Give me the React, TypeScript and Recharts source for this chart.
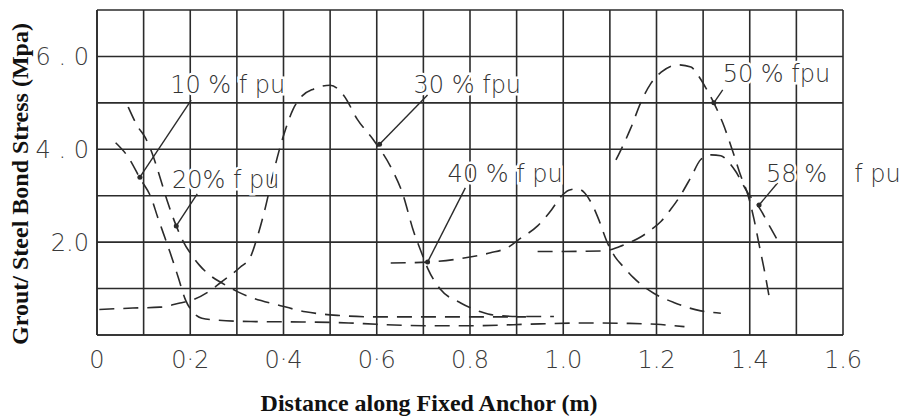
import { LineChart, Line, XAxis, YAxis, CartesianGrid, ReferenceLine, ReferenceDot, Label } from "recharts"

type Pt = [number, number]

// [distance along fixed anchor (m), grout/steel bond stress (MPa)]
const FPU_10: Pt[] = [
  [0.04, 4.14], [0.067, 3.83], [0.092, 3.38], [0.118, 2.91], [0.13, 2.54],
  [0.142, 2.2], [0.157, 1.77], [0.174, 1.25], [0.19, 0.75], [0.205, 0.5],
  [0.225, 0.36], [0.26, 0.32], [0.33, 0.29], [0.44, 0.28], [0.54, 0.26],
  [0.6, 0.23], [0.7, 0.2], [0.8, 0.2], [0.95, 0.24], [1.05, 0.26],
  [1.14, 0.25], [1.2, 0.23], [1.26, 0.18],
]

const FPU_20: Pt[] = [
  [0.067, 4.91], [0.088, 4.48], [0.103, 4.26], [0.118, 3.92], [0.135, 3.4],
  [0.15, 2.91], [0.17, 2.35], [0.183, 2.05], [0.206, 1.68], [0.22, 1.5],
  [0.247, 1.25], [0.268, 1.12], [0.3, 0.94], [0.333, 0.8], [0.387, 0.65],
  [0.447, 0.5], [0.52, 0.42], [0.6, 0.39], [0.76, 0.39], [0.92, 0.39],
]

const FPU_30: Pt[] = [
  [0.005, 0.55], [0.077, 0.58], [0.135, 0.6], [0.178, 0.69], [0.206, 0.76],
  [0.249, 1.0], [0.264, 1.12], [0.307, 1.46], [0.329, 1.68], [0.345, 2.15],
  [0.36, 2.7], [0.375, 3.35], [0.39, 3.95], [0.405, 4.45], [0.42, 4.85],
  [0.44, 5.15], [0.465, 5.3], [0.5, 5.38], [0.53, 5.15], [0.558, 4.65],
  [0.593, 4.2], [0.63, 3.62], [0.655, 3.06], [0.68, 2.2], [0.695, 1.8],
  [0.71, 1.42], [0.737, 0.98], [0.78, 0.69], [0.823, 0.5], [0.85, 0.43],
  [0.9, 0.4], [0.98, 0.4],
]

const FPU_40: Pt[] = [
  [0.63, 1.55], [0.709, 1.57], [0.8, 1.68], [0.844, 1.77], [0.88, 1.88],
  [0.908, 2.08], [0.945, 2.35], [0.975, 2.7], [0.995, 2.98], [1.012, 3.12],
  [1.03, 3.15], [1.046, 3.06], [1.06, 2.85], [1.074, 2.54], [1.095, 1.98],
  [1.11, 1.7], [1.13, 1.46], [1.15, 1.24], [1.173, 1.04], [1.194, 0.9],
  [1.237, 0.7], [1.295, 0.52], [1.338, 0.47],
]

const FPU_50: Pt[] = [
  [1.113, 3.77], [1.13, 4.12], [1.145, 4.46], [1.166, 5.0], [1.188, 5.42],
  [1.21, 5.66], [1.246, 5.82], [1.274, 5.77], [1.29, 5.58], [1.307, 5.3],
  [1.323, 5.0], [1.342, 4.57], [1.366, 3.88], [1.38, 3.45], [1.396, 3.02],
  [1.409, 2.5], [1.42, 1.95], [1.43, 1.46], [1.441, 0.86],
]

const FPU_58: Pt[] = [
  [0.945, 1.8], [1.0, 1.8], [1.087, 1.81], [1.12, 1.9], [1.14, 1.98],
  [1.166, 2.11], [1.19, 2.28], [1.21, 2.45], [1.23, 2.7], [1.246, 2.92],
  [1.274, 3.4], [1.295, 3.78], [1.317, 3.88], [1.338, 3.86], [1.355, 3.72],
  [1.37, 3.52], [1.396, 3.06], [1.42, 2.75], [1.445, 2.3], [1.463, 1.98],
]

const CURVES = [FPU_10, FPU_20, FPU_30, FPU_40, FPU_50, FPU_58]

const X_TICKS = [0, 0.1, 0.2, 0.3, 0.4, 0.5, 0.6, 0.7, 0.8, 0.9, 1.0, 1.1, 1.2, 1.3, 1.4, 1.5, 1.6]
const X_TICK_LABELS: Record<string, string> = {
  "0.0": "0", "0.2": "0·2", "0.4": "0·4", "0.6": "0·6",
  "0.8": "0.8", "1.0": "1.0", "1.2": "1.2", "1.4": "1.4", "1.6": "1.6",
}
const Y_TICKS = [0, 1, 2, 3, 4, 5, 6, 7]
const Y_TICK_LABELS: Record<number, string> = { 2: "2.0", 4: "4 . 0", 6: "6 . 0" }

// load-level callouts: text anchor, then the leader line from tip to curve
const CALLOUTS: { text: string; at: Pt; tip?: Pt; end?: Pt }[] = [
  { text: "10 % f pu", at: [0.157, 5.21], tip: [0.202, 5.06], end: [0.092, 3.4] },
  { text: "20% f pu", at: [0.161, 3.17], tip: [0.215, 3.04], end: [0.17, 2.35] },
  { text: "30 % fpu", at: [0.679, 5.21], tip: [0.709, 5.17], end: [0.606, 4.11] },
  { text: "40 % f pu", at: [0.752, 3.3], tip: [0.79, 3.17], end: [0.709, 1.57] },
  { text: "50 % fpu", at: [1.342, 5.45], tip: [1.342, 5.28], end: [1.323, 5.0] },
  { text: "58 %", at: [1.435, 3.3], tip: [1.46, 3.28], end: [1.42, 2.8] },
  { text: "f pu", at: [1.624, 3.3] },
]

const INK = "#2b2b2b"
const TECH_FONT = "'DejaVu Sans', sans-serif"
const TITLE_FONT = "'Liberation Serif', serif"

const toRows = (pts: Pt[]) => pts.map(([x, y]) => ({ x, y }))

const YTitle = () => (
  <text
    x={28}
    y={184}
    transform="rotate(-90 28 184)"
    textAnchor="middle"
    fontFamily={TITLE_FONT}
    fontWeight="bold"
    fontSize={24}
    fill="#111"
  >
    Grout/ Steel Bond Stress (Mpa)
  </text>
)

const XTitle = () => (
  <text x={429} y={411} textAnchor="middle" fontFamily={TITLE_FONT} fontWeight="bold" fontSize={24} fill="#111">
    Distance along Fixed Anchor (m)
  </text>
)

export default function App() {
  return (
    <div style={{ position: "absolute", left: 0, top: 0, width: 904, height: 419, background: "#fff" }}>
      <LineChart width={904} height={419} margin={{ top: 10, right: 61, bottom: 0, left: 0 }}>
        <CartesianGrid stroke={INK} strokeWidth={1.6} />
        <XAxis
          type="number"
          dataKey="x"
          domain={[0, 1.6]}
          ticks={X_TICKS}
          interval={0}
          height={84}
          tickLine={false}
          tickSize={0}
          tickMargin={16}
          axisLine={{ stroke: INK, strokeWidth: 1.6 }}
          tick={{ fill: "#3a3a3a", fontSize: 24, fontFamily: TECH_FONT, fontWeight: 300 }}
          tickFormatter={(v: number) => X_TICK_LABELS[v.toFixed(1)] ?? ""}
        >
          <Label content={XTitle} />
        </XAxis>
        <YAxis
          type="number"
          domain={[0, 7]}
          ticks={Y_TICKS}
          interval={0}
          width={97}
          tickLine={false}
          tickSize={0}
          tickMargin={8}
          axisLine={{ stroke: INK, strokeWidth: 1.6 }}
          tick={{ fill: "#3a3a3a", fontSize: 24, fontFamily: TECH_FONT, fontWeight: 300 }}
          tickFormatter={(v: number) => Y_TICK_LABELS[v] ?? ""}
        >
          <Label content={YTitle} />
        </YAxis>

        {CURVES.map((pts, i) => (
          <Line
            key={i}
            data={toRows(pts)}
            dataKey="y"
            type="monotone"
            stroke={INK}
            strokeWidth={1.6}
            strokeDasharray="15 9"
            dot={false}
            activeDot={false}
            isAnimationActive={false}
          />
        ))}

        {CALLOUTS.filter((c) => c.tip && c.end).map((c) => (
          <ReferenceLine
            key={`lead-${c.text}`}
            segment={[
              { x: c.tip![0], y: c.tip![1] },
              { x: c.end![0], y: c.end![1] },
            ]}
            stroke={INK}
            strokeWidth={1.4}
            ifOverflow="visible"
          />
        ))}
        {CALLOUTS.filter((c) => c.end).map((c) => (
          <ReferenceDot key={`end-${c.text}`} x={c.end![0]} y={c.end![1]} r={2.5} fill={INK} stroke="none" />
        ))}
        {CALLOUTS.map((c) => (
          <ReferenceDot
            key={`txt-${c.text}`}
            x={c.at[0]}
            y={c.at[1]}
            r={0}
            ifOverflow="visible"
            shape={(p: any) => (
              <text
                x={p.cx}
                y={p.cy}
                fontFamily={TECH_FONT}
                fontWeight={300}
                fontSize={24}
                fill="#333"
                style={{ paintOrder: "stroke" }}
                stroke="#fff"
                strokeWidth={5}
              >
                {c.text}
              </text>
            )}
          />
        ))}
      </LineChart>
    </div>
  )
}
